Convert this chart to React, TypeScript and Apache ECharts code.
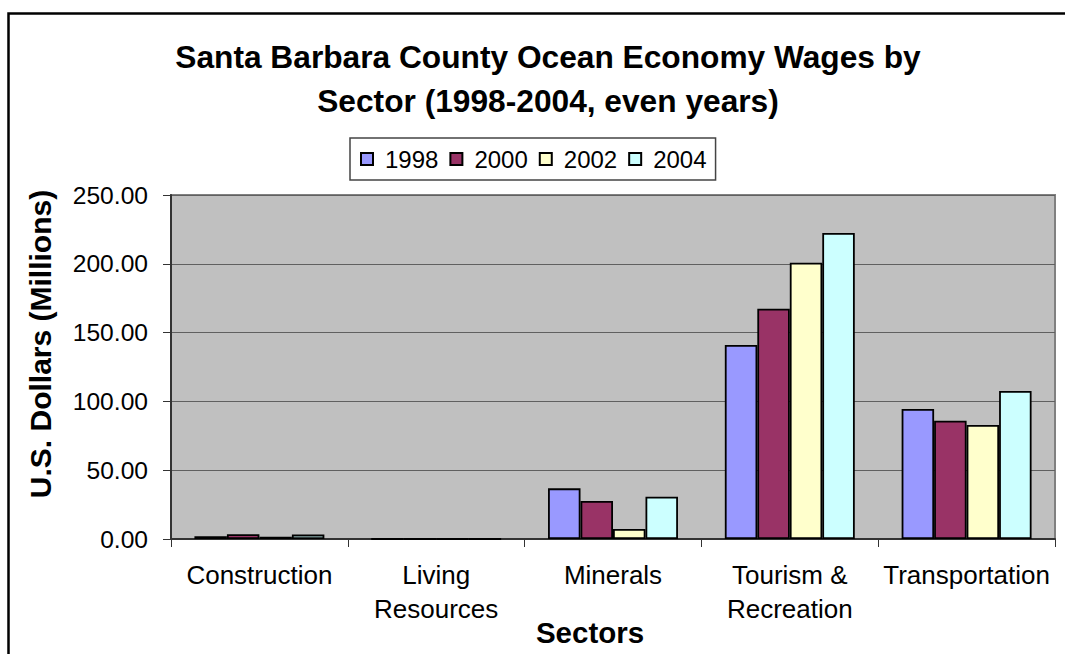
import React, { useEffect, useRef } from "react";
import * as echarts from "echarts";

const categories = ["Construction", "Living\nResources", "Minerals", "Tourism &\nRecreation", "Transportation"];
const seriesNames = ["1998", "2000", "2002", "2004"];
const values1998 = [2.0, 0, 36.8, 141.0, 94.5];
const values2000 = [3.4, 0, 27.6, 167.4, 86.0];
const values2002 = [1.6, 0, 7.3, 200.8, 82.8];
const values2004 = [3.2, 0, 30.7, 222.4, 107.6];
const seriesColors = ["#9999FF", "#993366", "#FFFFCC", "#CCFFFF"];
const titleText = "Santa Barbara County Ocean Economy Wages by\nSector (1998-2004, even years)";
const yAxisTitle = "U.S. Dollars (Millions)";
const xAxisTitle = "Sectors";

const FONT = "'Liberation Sans', Arial, sans-serif";

export default function App() {
  const ref = useRef<HTMLDivElement>(null);
  useEffect(() => {
    if (!ref.current) return;
    const chart = echarts.init(ref.current, undefined, { renderer: "svg" });
    const allValues = [values1998, values2000, values2002, values2004];
    chart.setOption({
      animation: false,
      backgroundColor: "#ffffff",
      textStyle: { fontFamily: FONT },
      grid: {
        left: 171,
        top: 195,
        right: 10,
        bottom: 115,
        show: true,
        backgroundColor: "#C0C0C0",
        borderColor: "#808080",
        borderWidth: 2,
      },
      legend: {
        data: seriesNames,
        left: 350,
        top: 138,
        padding: [9, 9, 9, 10],
        itemWidth: 12,
        itemHeight: 12,
        itemGap: 11,
        icon: "rect",
        borderColor: "#444",
        borderWidth: 1.5,
        backgroundColor: "#ffffff",
        textStyle: { fontSize: 24, color: "#000", fontFamily: FONT, padding: [0, 0, 0, 7] },
      },
      xAxis: {
        type: "category",
        data: categories,
        axisLine: { show: true, lineStyle: { color: "#333", width: 2 } },
        axisTick: { show: true, length: 8, alignWithLabel: false, lineStyle: { color: "#333", width: 1 } },
        axisLabel: {
          fontSize: 26,
          color: "#000",
          lineHeight: 34,
          margin: 19,
          interval: 0,
          fontFamily: FONT,
        },
        splitLine: { show: false },
      },
      yAxis: {
        type: "value",
        min: 0,
        max: 250,
        interval: 50,
        axisLine: { show: true, lineStyle: { color: "#333", width: 2 } },
        axisTick: { show: true, length: 8, lineStyle: { color: "#333", width: 1 } },
        axisLabel: {
          fontSize: 24.6,
          color: "#000",
          margin: 23,
          fontFamily: FONT,
          formatter: (v: number) => v.toFixed(2),
        },
        splitLine: { show: true, lineStyle: { color: "#606060", width: 1 } },
      },
      series: seriesNames.map((name, i) => ({
        name,
        type: "bar",
        data: allValues[i],
        barGap: "0%",
        barCategoryGap: "26.5%",
        itemStyle: { color: seriesColors[i], borderColor: "#000", borderWidth: 1.8 },
      })),
      graphic: [
        {
          type: "rect",
          shape: { x: 8.5, y: 13.5, width: 1120, height: 720 },
          style: { fill: "none", stroke: "#000", lineWidth: 2.5 },
          silent: true,
          z: 100,
        },
        {
          type: "text",
          x: 548,
          y: 35,
          style: {
            text: titleText,
            fontSize: 31.7,
            fontWeight: "bold",
            fontFamily: FONT,
            lineHeight: 44,
            align: "center",
            verticalAlign: "top",
            fill: "#000",
          },
        },
        {
          type: "text",
          x: 40,
          y: 344,
          rotation: Math.PI / 2,
          style: {
            text: yAxisTitle,
            fontSize: 30,
            fontWeight: "bold",
            fontFamily: FONT,
            align: "center",
            verticalAlign: "middle",
            fill: "#000",
          },
        },
        {
          type: "text",
          x: 590,
          y: 632,
          style: {
            text: xAxisTitle,
            fontSize: 29.5,
            fontWeight: "bold",
            fontFamily: FONT,
            align: "center",
            verticalAlign: "middle",
            fill: "#000",
          },
        },
      ],
    });
    return () => chart.dispose();
  }, []);
  return (
    <div
      ref={ref}
      style={{ position: "fixed", left: 0, top: 0, width: 1065, height: 654, background: "#fff" }}
    />
  );
}
